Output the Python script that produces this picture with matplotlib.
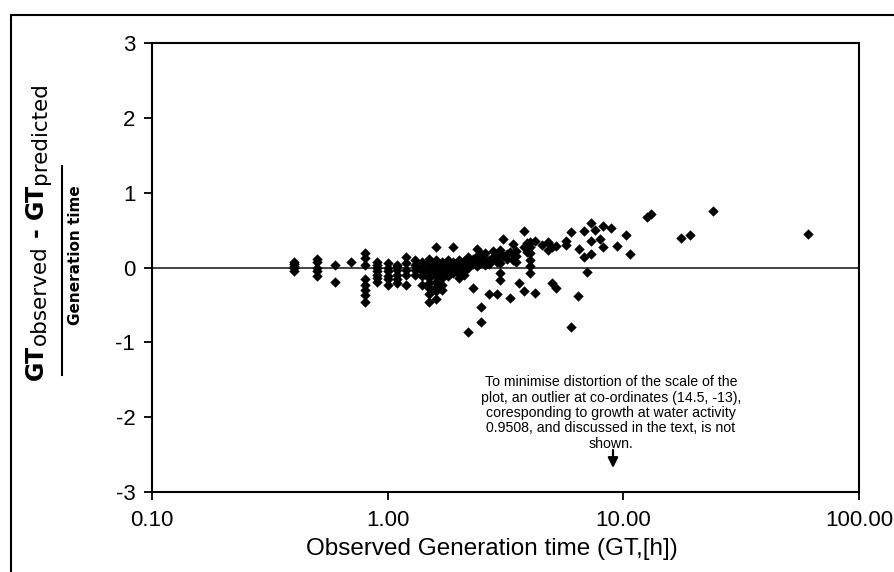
import numpy as np
import matplotlib.pyplot as plt
from matplotlib.patches import Rectangle
from matplotlib.lines import Line2D

plt.rcParams['axes.unicode_minus'] = False

# observed generation time (h) and relative error
gt_obs = [0.4, 0.4, 0.4, 0.4, 0.4,
          0.5, 0.5, 0.5, 0.5, 0.5,
          0.6, 0.6,
          0.7,
          0.8, 0.8, 0.8, 0.8, 0.8, 0.8, 0.8, 0.8,
          0.9, 0.9, 0.9, 0.9, 0.9, 0.9, 0.9,
          1.0, 1.0, 1.0, 1.0, 1.0, 1.0,
          1.1, 1.1, 1.1, 1.1, 1.1, 1.1,
          1.2, 1.2, 1.2, 1.2, 1.2,
          1.3, 1.3, 1.3, 1.3,
          1.4, 1.4, 1.4, 1.4, 1.4,
          1.5, 1.5, 1.5, 1.5, 1.5, 1.5, 1.5, 1.5, 1.5, 1.5, 1.5,
          1.6, 1.6, 1.6, 1.6, 1.6, 1.6, 1.6, 1.6, 1.6, 1.6,
          1.7, 1.7, 1.7, 1.7, 1.7, 1.7, 1.7,
          1.8, 1.8, 1.8, 1.8, 1.8,
          1.9, 1.9, 1.9, 1.9, 1.9,
          2.0, 2.0, 2.0, 2.0, 2.0,
          2.1, 2.1, 2.1, 2.1,
          2.2, 2.2, 2.2, 2.2,
          2.3, 2.3, 2.3,
          2.4, 2.4, 2.4, 2.4,
          2.5, 2.5, 2.5, 2.5,
          2.6, 2.6, 2.6,
          2.7, 2.7, 2.7,
          2.8, 2.8,
          2.9, 2.9, 2.9,
          3.0, 3.0, 3.0, 3.0,
          3.1, 3.1,
          3.2, 3.2,
          3.3, 3.3,
          3.4, 3.4, 3.4,
          3.5, 3.5, 3.5,
          3.6,
          3.8, 3.8, 3.8,
          3.9, 3.9,
          4.0, 4.0, 4.0, 4.0, 4.0, 4.0,
          4.2, 4.2,
          4.5,
          4.8, 4.8,
          5.0, 5.0,
          5.2, 5.2,
          5.7, 5.7,
          6.0, 6.0,
          6.4, 6.5,
          6.8, 6.8,
          7.0,
          7.3, 7.3, 7.3,
          7.6, 8.0,
          8.2, 8.2,
          8.9, 9.4, 10.3, 10.7, 12.6, 13.1, 17.5, 19.2, 24.1, 60.5]

rel_err = [0.08, 0.05, 0.02, -0.01, -0.05,
           0.12, 0.07, 0.00, -0.05, -0.11,
           0.04, -0.19,
           0.08,
           0.19, 0.13, 0.04, -0.16, -0.23, -0.30, -0.37, -0.46,
           0.08, 0.04, -0.01, -0.05, -0.10, -0.14, -0.19,
           0.06, 0.00, -0.05, -0.11, -0.16, -0.23,
           0.04, 0.01, -0.04, -0.10, -0.16, -0.21,
           0.14, 0.06, -0.03, -0.10, -0.23,
           0.10, 0.03, -0.04, -0.10,
           0.08, 0.01, -0.05, -0.12, -0.23,
           0.12, 0.08, 0.05, 0.01, -0.03, -0.08, -0.14, -0.21, -0.28, -0.35, -0.46,
           0.27, 0.10, 0.05, 0.00, -0.06, -0.12, -0.20, -0.26, -0.31, -0.42,
           0.08, 0.03, -0.02, -0.08, -0.14, -0.24, -0.30,
           0.10, 0.05, -0.01, -0.06, -0.12,
           0.27, 0.08, 0.03, -0.02, -0.07,
           0.10, 0.04, -0.02, -0.09, -0.14,
           0.09, 0.02, -0.05, -0.10,
           0.14, 0.07, 0.00, -0.86,
           0.12, 0.05, -0.28,
           0.25, 0.15, 0.08, 0.02,
           0.18, 0.10, -0.53, -0.73,
           0.20, 0.12, 0.04,
           0.10, 0.05, -0.36,
           0.22, 0.14,
           0.16, 0.08, -0.36,
           0.24, 0.06, -0.08, -0.17,
           0.38, 0.15,
           0.18, 0.12,
           0.21, -0.41,
           0.32, 0.18, 0.10,
           0.22, 0.15, 0.08,
           -0.21,
           0.49, 0.28, -0.32,
           0.21, 0.33,
           0.34, 0.28, 0.20, 0.10, 0.02, -0.07,
           0.36, -0.34,
           0.30,
           0.34, 0.23,
           0.27, -0.21,
           0.29, -0.28,
           0.36, 0.30,
           0.48, -0.79,
           -0.38, 0.25,
           0.49, 0.14,
           -0.06,
           0.60, 0.36, 0.18,
           0.50, 0.38,
           0.28, 0.55,
           0.53, 0.29, 0.43, 0.18, 0.67, 0.71, 0.40, 0.43, 0.76, 0.45]

x_ticks = [0.1, 1, 10, 100]
x_tick_labels = ['0.10', '1.00', '10.00', '100.00']
y_ticks = [-3, -2, -1, 0, 1, 2, 3]

note = ("To minimise distortion of the scale of the\n"
        "plot, an outlier at co-ordinates (14.5, -13),\n"
        "coresponding to growth at water activity\n"
        "0.9508, and discussed in the text, is not\n"
        "shown.")

W, H = 894, 572
fig = plt.figure(figsize=(W / 100, H / 100), dpi=100)
ax = fig.add_axes([152 / W, 1 - 492 / H, 707 / W, 449 / H])

ax.scatter(gt_obs, rel_err, marker='D', s=28, color='black', linewidths=0, zorder=3)
ax.axhline(0, color='#444444', lw=1.4, zorder=2)

ax.set_xscale('log')
ax.set_xlim(0.1, 100)
ax.set_ylim(-3, 3)
ax.set_xticks(x_ticks)
ax.set_xticklabels(x_tick_labels)
ax.set_yticks(y_ticks)
ax.minorticks_off()
ax.tick_params(direction='out', length=6, width=1.3, labelsize=16, colors='black')
ax.tick_params(axis='x', pad=7)
ax.tick_params(axis='y', pad=6)
for lab in ax.get_xticklabels() + ax.get_yticklabels():
    lab.set_fontfamily('Liberation Sans')
for s in ax.spines.values():
    s.set_linewidth(1.5)

ax.set_xlabel('Observed Generation time (GT,[h])', fontsize=17.5,
              family=['Liberation Sans', 'DejaVu Sans'])
ax.xaxis.set_label_coords(0.481, -0.102)


def px(x, y):
    # image pixel position (origin top-left) -> figure fraction
    return x / W, 1 - y / H


# fraction-style y label, numerator built from pieces so the subscripts sit low
renderer = fig.canvas.get_renderer()
pieces = [('GT', 17, 'bold', 43, 0),
          ('observed', 15.5, 'normal', 46, 0),
          ('-', 17, 'bold', 43, 8),
          ('GT', 17, 'bold', 43, 8),
          ('predicted', 15.5, 'normal', 46, 0)]
y_img = 380
for txt, size, weight, xb, gap in pieces:
    y_img -= gap
    t = fig.text(*px(xb, y_img), txt, rotation=90, rotation_mode='anchor',
                 ha='left', va='baseline', fontsize=size, fontweight=weight)
    y_img -= t.get_window_extent(renderer).height

fig.add_artist(Line2D([62 / W, 62 / W], [1 - 166 / H, 1 - 375 / H],
                      transform=fig.transFigure, color='black', lw=1.5))
fig.text(*px(75, 255), 'Generation time', rotation=90, ha='center', va='center',
         fontsize=11, fontweight='bold')

# note about the outlier
fig.text(*px(611, 413), note, ha='center', va='center', fontsize=10.2,
         family=['Liberation Sans', 'DejaVu Sans'], linespacing=1.12)
ax.annotate('', xy=px(613, 468), xycoords='figure fraction',
            xytext=px(613, 450), textcoords='figure fraction',
            arrowprops=dict(arrowstyle='-|>,head_length=0.6,head_width=0.3',
                            color='black', lw=1.6, shrinkA=0, shrinkB=0))

# outer chart frame
fig.add_artist(Rectangle((11 / W, -0.1), 1.2, 1 - 15 / H + 0.1, transform=fig.transFigure,
                         fill=False, edgecolor='black', lw=1.5))

fig.savefig('out.png', dpi=100)
